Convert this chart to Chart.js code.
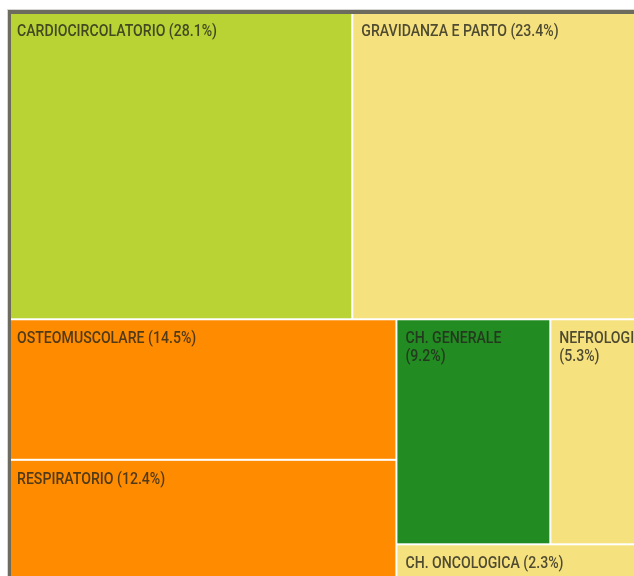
<!DOCTYPE html>
<html>
<head>
<meta charset="utf-8">
<script src="https://cdn.jsdelivr.net/npm/chart.js@4.4.1/dist/chart.umd.min.js"></script>
<style>
  html,body{margin:0;padding:0;background:#fff;overflow:hidden;}
  #wrap{position:absolute;left:0;top:0;width:650px;height:592px;}
</style>
</head>
<body>
<div id="wrap"><canvas id="c"></canvas></div>
<script>
// share of cases by specialty (%)
const LABELS = ['CARDIOCIRCOLATORIO','GRAVIDANZA E PARTO','OSTEOMUSCOLARE','RESPIRATORIO','CH. GENERALE','NEFROLOGIA','CH. ONCOLOGICA'];
const VALUES = [28.1, 23.4, 14.5, 12.4, 9.2, 5.3, 2.3];
const COLORS = ['#b8d333','#f6e17f','#ff8c00','#ff8c00','#228b22','#f6e17f','#f6e17f'];

const FONT = '500 17px Roboto, "Liberation Sans", sans-serif';
const SQUEEZE = 0.83;   // fake a condensed face
const TXT = 'rgba(38,38,30,0.8)';

// strips of two cells, alternating top row / left column, in 0..1 data units
function layoutPairs(vals, horizontal){
  const out = [];
  let x = 0, y = 0, w = 1, h = 1, i = 0;
  let rest = vals.reduce((a,b)=>a+b,0);
  while(i < vals.length){
    const grp = vals.slice(i, i+2);
    const sum = grp.reduce((a,b)=>a+b,0);
    const frac = sum/rest;
    if(horizontal){
      const sh = h*frac; let cx = x;
      grp.forEach(v=>{ const cw = w*v/sum; out.push({x0:cx,x1:cx+cw,y0:y,y1:y+sh}); cx += cw; });
      y += sh; h -= sh;
    } else {
      const sw = w*frac; let cy = y;
      grp.forEach(v=>{ const chh = h*v/sum; out.push({x0:x,x1:x+sw,y0:cy,y1:cy+chh}); cy += chh; });
      x += sw; w -= sw;
    }
    rest -= sum; i += 2; horizontal = !horizontal;
  }
  return out;
}

const CELLS = layoutPairs(VALUES, true);

function wrapWords(ctx, text, maxW){
  const words = text.split(' ');
  const lines = [];
  let cur = '';
  words.forEach(wd=>{
    const t = cur ? cur+' '+wd : wd;
    if(cur && ctx.measureText(t).width*SQUEEZE > maxW){ lines.push(cur); cur = wd; }
    else cur = t;
  });
  if(cur) lines.push(cur);
  return lines;
}

const treemapPlugin = {
  id:'treemapCells',
  beforeDatasetsDraw(chart){
    const {ctx, scales:{x, y}} = chart;
    ctx.save();
    CELLS.forEach((c,i)=>{
      const px0 = x.getPixelForValue(c.x0), px1 = x.getPixelForValue(c.x1);
      const py0 = y.getPixelForValue(c.y0), py1 = y.getPixelForValue(c.y1);
      ctx.fillStyle = COLORS[i];
      ctx.fillRect(px0+1, py0+1, px1-px0-2, py1-py0-2);
    });
    ctx.font = FONT;
    ctx.fillStyle = TXT;
    ctx.textBaseline = 'alphabetic';
    CELLS.forEach((c,i)=>{
      const px0 = x.getPixelForValue(c.x0), px1 = x.getPixelForValue(c.x1);
      const py0 = y.getPixelForValue(c.y0);
      const txt = LABELS[i]+' ('+VALUES[i].toFixed(1)+'%)';
      const lines = wrapWords(ctx, txt, px1-px0-18);
      lines.forEach((ln,k)=>{
        ctx.save();
        ctx.translate(px0+9, py0+24+k*17.7);
        ctx.scale(SQUEEZE, 1);
        ctx.fillText(ln, 0, 0);
        ctx.restore();
      });
    });
    ctx.restore();
  },
  afterDraw(chart){
    const {ctx, chartArea:a} = chart;
    ctx.save();
    ctx.fillStyle = '#d6d6d2';
    ctx.fillRect(a.left-1, a.top-3, a.right-a.left+1, 1);
    ctx.fillRect(a.left-1, a.top-3, 1, a.bottom-a.top+3);
    ctx.fillStyle = '#6c6b5d';
    ctx.fillRect(a.left, a.top-2, a.right-a.left, 4);
    ctx.fillRect(a.left, a.top-2, 3, a.bottom-a.top+2);
    ctx.restore();
  }
};

new Chart(document.getElementById('c'), {
  type:'scatter',
  data:{ datasets:[{ data:[], pointRadius:0 }] },
  options:{
    responsive:true,
    maintainAspectRatio:false,
    animation:false,
    layout:{ padding:{ left:8, top:12, right:11, bottom:12 } },
    plugins:{ legend:{display:false}, tooltip:{enabled:false} },
    scales:{
      x:{ type:'linear', min:0, max:1, display:false },
      y:{ type:'linear', min:0, max:1, reverse:true, display:false }
    }
  },
  plugins:[treemapPlugin]
});
</script>
</body>
</html>
